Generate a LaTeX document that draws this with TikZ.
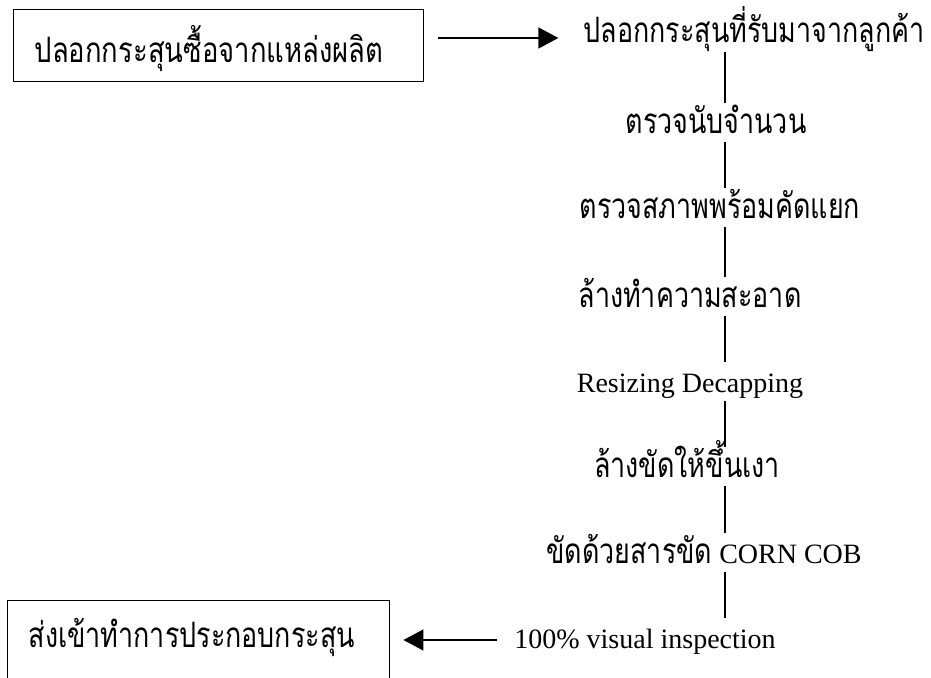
\documentclass[tikz,border=0pt]{standalone}
\usepackage{fontspec}
\usepackage{graphicx}
\setmainfont{Liberation Serif}
\newfontfamily\thai[Script=Thai]{Loma}
\newcommand\thtxt[1]{\scalebox{0.96}[1.25]{\thai #1}}
\usetikzlibrary{arrows.meta}
\tikzset{
  stepnode/.style={anchor=base, inner xsep=0pt, inner ysep=0pt, text height=30pt, text depth=9pt, font=\fontsize{28}{30}\selectfont},
  boxnode/.style={draw, line width=1.4pt, anchor=north west, inner xsep=21pt, inner ysep=0pt, align=left, font=\fontsize{28}{30}\selectfont},
  link/.style={line width=1.4pt},
  arr/.style={line width=1.3pt, -{Triangle[length=20pt,width=21pt]}},
}
\begin{document}
\begin{tikzpicture}[x=1pt,y=-1pt]
\useasboundingbox (0,0) rectangle (931,677);
\coordinate (vx) at (725,0);
\node[boxnode, text width=368pt, text height=53pt, text depth=19pt] (b1) at (13,9) {\scalebox{1.02}[1]{\thtxt{ปลอกกระสุนซื้อจากแหล่งผลิต}}};
\node[boxnode, text width=340pt, text height=47pt, text depth=43pt] (b2) at (7,600) {\thtxt{ส่งเข้าทำการประกอบกระสุน}};
\node[stepnode] (t1) at (754,43) {\thtxt{ปลอกกระสุนที่รับมาจากลูกค้า}};
\node[stepnode] (t2) at (716,133) {\thtxt{ตรวจนับจำนวน}};
\node[stepnode] (t3) at (720,218) {\thtxt{ตรวจสภาพพร้อมคัดแยก}};
\node[stepnode] (t4) at (690,307) {\thtxt{ล้างทำความสะอาด}};
\node[stepnode] (t5) at (690,392) {Resizing Decapping};
\node[stepnode] (t6) at (687,477) {\thtxt{ล้างขัดให้ขึ้นเงา}};
\node[stepnode] (t7) at (704,563) {\thtxt{ขัดด้วยสารขัด} CORN COB};
\node[stepnode] (t8) at (645,648) {100\% visual inspection};
\coordinate (ay1) at (0,38);
\coordinate (ay2) at (0,640);
\draw[arr, shorten <=14pt, shorten >=25pt] (b1.east |- ay1) -- (t1.west |- ay1);
\draw[arr, shorten <=17pt, shorten >=13pt] (t8.west |- ay2) -- (b2.east |- ay2);
\draw[link] (t1.south -| vx) -- (t2.north -| vx);
\draw[link] (t2.south -| vx) -- (t3.north -| vx);
\draw[link] (t3.south -| vx) -- (t4.north -| vx);
\draw[link] (t4.south -| vx) -- (t5.north -| vx);
\draw[link] (t5.south -| vx) -- (t6.north -| vx);
\draw[link] (t6.south -| vx) -- (t7.north -| vx);
\draw[link] (t7.south -| vx) -- (t8.north -| vx);
\end{tikzpicture}
\end{document}
